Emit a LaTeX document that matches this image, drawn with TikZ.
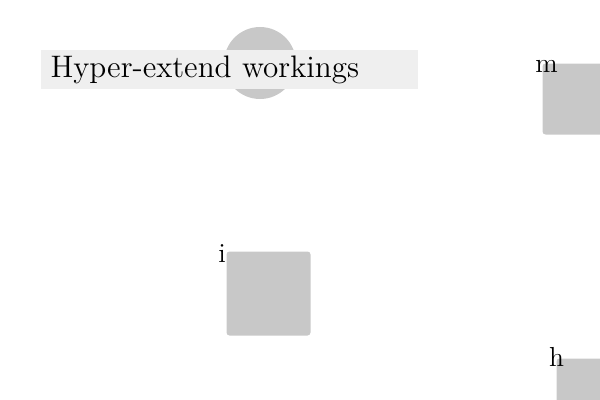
\documentclass[tikz,border=0pt]{standalone}
\usepackage{tikz}
\usetikzlibrary{positioning}
\definecolor{Shade}{RGB}{200,200,200}
\definecolor{Band}{RGB}{239,239,239}

\begin{document}
\begin{tikzpicture}[x=0.4pt,y=-0.4pt,
  blob/.style={circle,fill=Shade,minimum size=28.8pt,inner sep=0pt},
  band/.style={rectangle,fill=Band,minimum height=15.6pt,text width=142.8pt,inner xsep=4pt,inner ysep=0pt,align=left,font=\fontsize{12.45}{14}\selectfont},
  tile/.style={rectangle,fill=Shade,rounded corners=1.2pt,inner sep=0pt,anchor=north west},
  tag/.style={inner sep=0pt,anchor=base,font=\fontsize{11}{13}\selectfont}]
          \clip(0,0)rectangle(600,400);
          \node[blob](hub)at(260,63){};
          \node[band,anchor=west](title)at(40,69.5){Hyper-extend workings};
          \node[tile,minimum size=33.6pt](sqi)at(226,251){};
          \node[tile,minimum size=28.4pt](sqm)at(542,63){};
          \node[tile,minimum size=28.4pt](sqh)at(556,358){};
          \node[tag,xshift=-1.6pt,yshift=-4.4pt](labi)at(sqi.north west){i};
          \node[tag,xshift=1.8pt,yshift=-3.6pt](labm)at(sqm.north west){m};
          \node[tag,xshift=0.2pt,yshift=-3.2pt](labh)at(sqh.north west){h};
\end{tikzpicture}
\end{document}
